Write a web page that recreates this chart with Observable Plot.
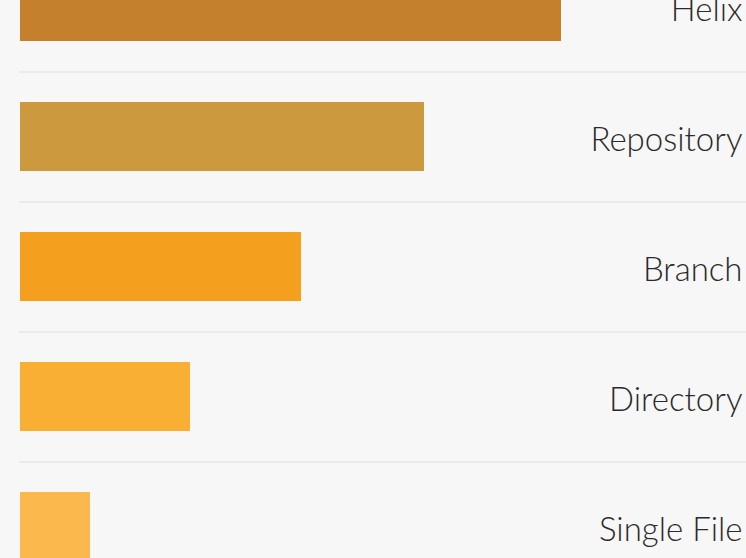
<!DOCTYPE html>
<html>
<head>
<meta charset="utf-8">
<script src="https://cdn.jsdelivr.net/npm/d3@7"></script>
<script src="https://cdn.jsdelivr.net/npm/@observablehq/plot@0.6"></script>
<style>
  html, body { margin: 0; padding: 0; background: #f7f7f7; }
  #chart svg { display: block; }
</style>
</head>
<body>
<div id="chart"></div>
<script>
const categories = ["Helix", "Repository", "Branch", "Directory", "Single File"];
const values = [541, 404, 281, 170, 70];
const colors = ["#c4802c", "#cc993f", "#f59f1f", "#f9ae34", "#fbb84d"];

const data = categories.map((c, i) => ({category: c, value: values[i], color: colors[i]}));
const separators = categories.slice(1);

const chart = Plot.plot({
  width: 746,
  height: 558,
  marginLeft: 20,
  marginRight: 0,
  marginTop: 0,
  marginBottom: 0,
  style: {background: "#f7f7f7", fontFamily: "Lato, sans-serif", overflow: "hidden"},
  x: {domain: [0, 726], axis: null},
  y: {domain: categories, range: [-58.5, 591.5], paddingInner: 0.47, paddingOuter: 0.235, axis: null},
  marks: [
    Plot.ruleY(separators, {y: d => d, dy: -65, x1: -1, x2: 726, stroke: "#e0e0e0", strokeWidth: 1.2}),
    Plot.barX(data, {y: "category", x: "value", fill: "color"}),
    Plot.text(data, {y: "category", text: "category", frameAnchor: "right", dx: -4, dy: 3, textAnchor: "end",
      fontSize: 33, fill: "#2a2a2a", fontWeight: 300})
  ]
});
document.getElementById("chart").appendChild(chart);
</script>
</body>
</html>
